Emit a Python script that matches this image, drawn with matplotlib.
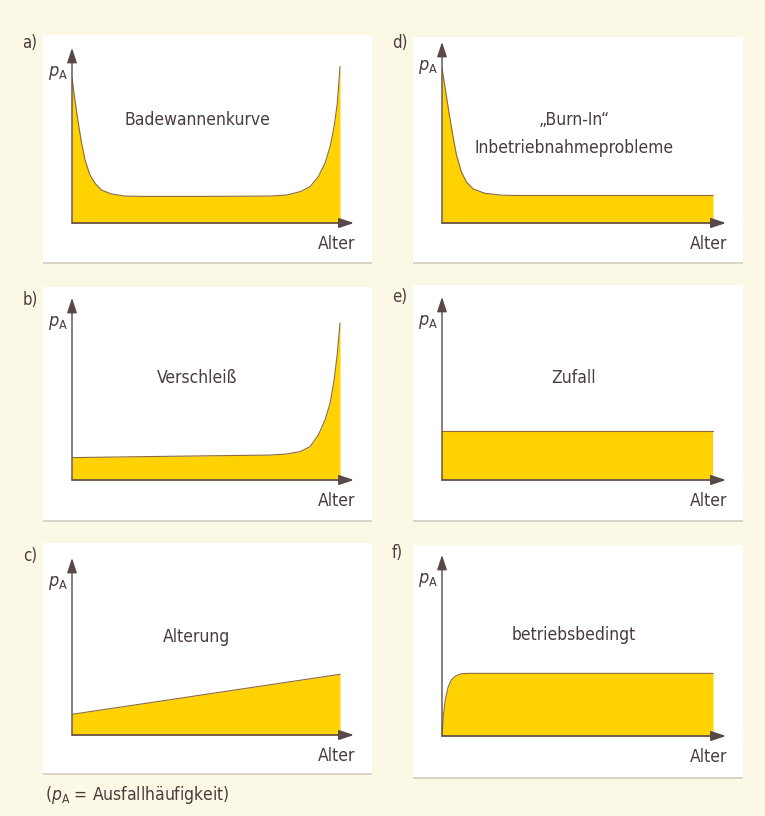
import matplotlib
matplotlib.use("Agg")
import matplotlib.pyplot as plt
from matplotlib.patches import Rectangle

plt.rcParams['font.family'] = ['DejaVu Sans']
plt.rcParams['font.stretch'] = 'condensed'
plt.rcParams['mathtext.fontset'] = 'custom'
plt.rcParams['mathtext.rm'] = 'DejaVu Sans:stretch=condensed'
plt.rcParams['mathtext.it'] = 'DejaVu Sans:italic:stretch=condensed'

# ---- data (relative age 0..1, relative failure rate 0..1 of axis height) ----
a_x = [0.0, 0.011, 0.0235, 0.036, 0.0485, 0.067, 0.086, 0.109, 0.147, 0.197, 0.271,
       0.50, 0.739, 0.801, 0.851, 0.888, 0.919, 0.944, 0.963, 0.978, 0.99, 1.0]
a_y = [0.83, 0.70, 0.57, 0.455, 0.36, 0.274, 0.227, 0.189, 0.166, 0.154, 0.152,
       0.152, 0.154, 0.16, 0.179, 0.207, 0.265, 0.341, 0.436, 0.55, 0.684, 0.893]

b_x = [0.0, 0.35, 0.739, 0.801, 0.851, 0.888, 0.919, 0.944, 0.963, 0.978, 0.99, 1.0]
b_y = [0.123, 0.13, 0.137, 0.143, 0.156, 0.183, 0.247, 0.33, 0.421, 0.549, 0.696, 0.861]

c_x = [0.0, 0.28, 1.0]
c_y = [0.117, 0.18, 0.343]

d_x = [0.0, 0.016, 0.028, 0.041, 0.053, 0.071, 0.09, 0.114, 0.158, 0.219, 0.268, 1.0]
d_y = [0.855, 0.703, 0.589, 0.474, 0.379, 0.284, 0.227, 0.189, 0.164, 0.154, 0.152, 0.152]

e_x = [0.0, 1.0]
e_y = [0.27, 0.27]

f_x = [0.0, 0.0048, 0.012, 0.022, 0.034, 0.049, 0.071, 0.096, 1.0]
f_y = [0.0, 0.11, 0.20, 0.267, 0.309, 0.331, 0.344, 0.346, 0.346]

letters = ['a)', 'b)', 'c)', 'd)', 'e)', 'f)']
titles = ['Badewannenkurve', 'Verschleiß', 'Alterung',
          '„Burn-In“\nInbetriebnahmeprobleme', 'Zufall', 'betriebsbedingt']
x_label = 'Alter'
y_label = r'$p_\mathregular{A}$'
footnote = '($p_\\mathregular{A}$ = Ausfallhäufigkeit)'

series = [(a_x, a_y), (b_x, b_y), (c_x, c_y), (d_x, d_y), (e_x, e_y), (f_x, f_y)]

# ---- layout (pixels) ----
W, H = 765, 816
BG = '#fcf8e6'
YELLOW = '#ffd200'
EDGE = '#8a6a3a'
AXC = '#5a4848'
TXT = '#4a3c3c'

fig = plt.figure(figsize=(W / 100, H / 100), dpi=100, facecolor=BG)

def fx(x):
    return x / W

def fy(y):
    return 1 - y / H

panels = [
    dict(box=(43, 35, 372, 262), ox=72, oy=223, ex=340, tx=354, ty=48, lab=(30, 43), title_y=[120]),
    dict(box=(43, 287, 372, 520), ox=72, oy=480, ex=340, tx=354, ty=298, lab=(30, 300), title_y=[378]),
    dict(box=(43, 543, 372, 773), ox=72, oy=735, ex=340, tx=354, ty=558, lab=(30, 556), title_y=[637]),
    dict(box=(413, 37, 743, 262), ox=442, oy=223, ex=713, tx=726, ty=42, lab=(400, 43), title_y=[120, 148]),
    dict(box=(413, 285, 743, 520), ox=442, oy=480, ex=713, tx=726, ty=297, lab=(400, 297), title_y=[378]),
    dict(box=(413, 545, 743, 777), ox=442, oy=736, ex=713, tx=726, ty=555, lab=(397, 553), title_y=[635]),
]

for i, (p, (xs, ys)) in enumerate(zip(panels, series)):
    x0, y0, x1, y1 = p['box']
    fig.patches.append(Rectangle((fx(x0), fy(y1)), fx(x1 - x0), (y1 - y0) / H,
                                 transform=fig.transFigure, facecolor='white',
                                 edgecolor='none', zorder=-2))
    fig.patches.append(Rectangle((fx(x0), fy(y1 + 2)), fx(x1 - x0), 2 / H,
                                 transform=fig.transFigure, facecolor='#d8d4c8',
                                 edgecolor='none', zorder=-2))
    ox, oy, ex, tx, ty = p['ox'], p['oy'], p['ex'], p['tx'], p['ty']
    ax = fig.add_axes([fx(ox), fy(oy), fx(tx - ox), (oy - ty) / H])
    ax.set_xlim(0, (tx - ox) / (ex - ox))
    ax.set_ylim(0, 1)
    ax.axis('off')
    ax.patch.set_alpha(0)
    ax.fill_between(xs, ys, 0, color=YELLOW, linewidth=0, zorder=2)
    ax.plot(xs, ys, color=EDGE, lw=0.8, zorder=3, solid_joinstyle='round')
    ax.annotate('', xy=(1, 0), xytext=(0, 0), xycoords='axes fraction',
                arrowprops=dict(arrowstyle='-|>,head_length=0.9,head_width=0.3',
                                color=AXC, lw=1.2, shrinkA=0, shrinkB=0), zorder=4)
    ax.annotate('', xy=(0, 1), xytext=(0, 0), xycoords='axes fraction',
                arrowprops=dict(arrowstyle='-|>,head_length=0.9,head_width=0.3',
                                color=AXC, lw=1.0, shrinkA=0, shrinkB=0), zorder=4)
    fig.text(fx(p['lab'][0]), fy(p['lab'][1]), letters[i], ha='center', va='center',
             fontsize=12, color=TXT)
    fig.text(fx(ox - 14), fy(ty + 25), y_label, ha='center', va='center',
             fontsize=13, color=TXT)
    fig.text(fx(tx + 1), fy(oy + 21), x_label, ha='right', va='center',
             fontsize=12.5, color=TXT)
    cx = (ox + tx) / 2 + (-16 if i < 3 else -10)
    lines = titles[i].split('\n')
    for line, ly in zip(lines, p['title_y']):
        fig.text(fx(cx), fy(ly), line, ha='center', va='center', fontsize=12.5, color=TXT)

fig.text(fx(45), fy(795), footnote, ha='left', va='center', fontsize=12.5, color=TXT)

fig.savefig('out.png', dpi=100, facecolor=BG)
